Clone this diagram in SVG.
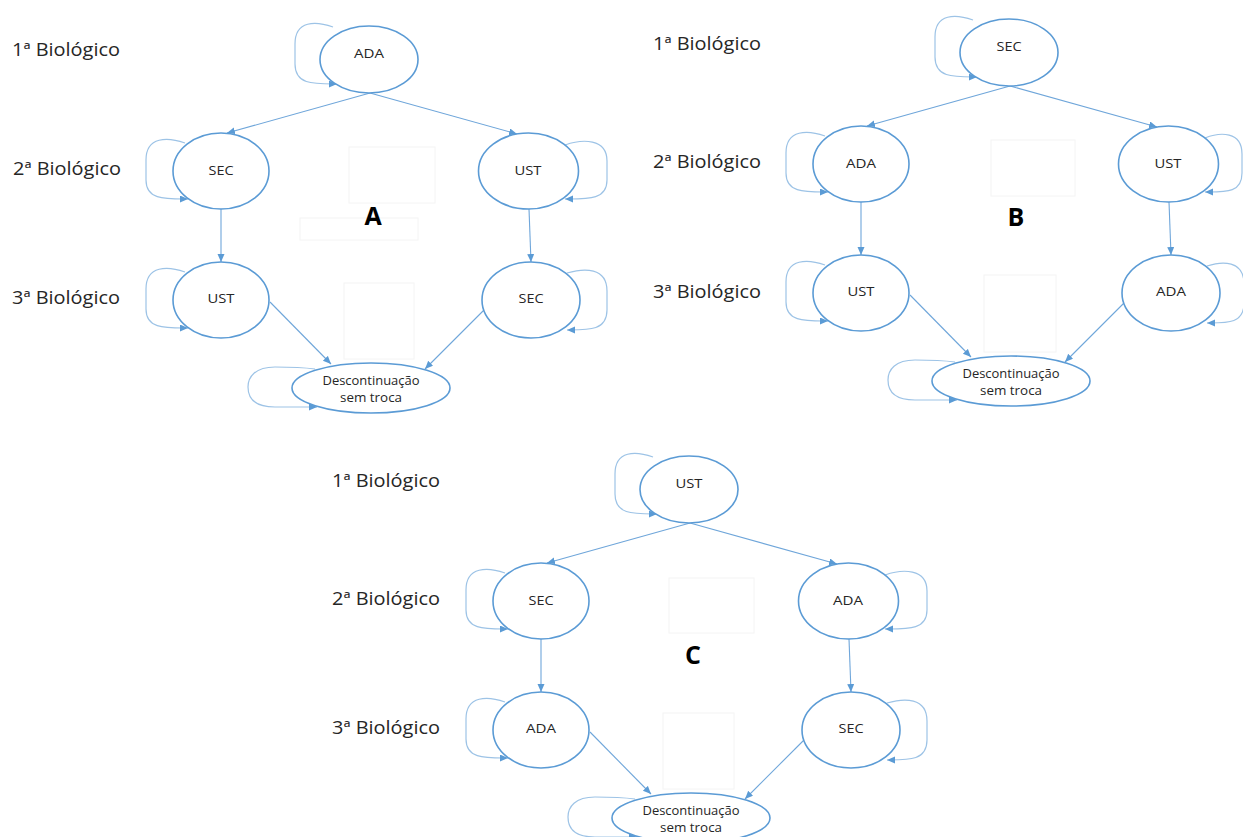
<svg xmlns="http://www.w3.org/2000/svg" width="1243" height="837" viewBox="0 0 1243 837">
  <style>
    .node { fill: #ffffff; stroke: #5b9bd5; stroke-width: 1.6; }
    .edge { fill: none; stroke: #6fa6da; stroke-width: 1.1; }
    .loop { fill: none; stroke: #9dc3e6; stroke-width: 1.2; }
    .ghost { fill: none; stroke: #f4f4f4; stroke-width: 1; }
    .nt { font-family: "Open Sans", "Liberation Sans", sans-serif; font-size: 13px; fill: #262626; text-anchor: middle; }
    .row { font-family: "Open Sans", "Liberation Sans", sans-serif; font-size: 17.5px; fill: #262626; }
    .tag { font-family: "Open Sans", "Liberation Sans", sans-serif; font-size: 25px; font-weight: bold; fill: #000000; text-anchor: middle; }
  </style>
  <defs>
    <marker id="arrow" markerUnits="userSpaceOnUse" markerWidth="9" markerHeight="8" refX="8" refY="3.5" orient="auto">
      <path d="M0,0 L8,3.5 L0,7 Z" fill="#5b9bd5"/>
    </marker>
  </defs>
  <rect width="1243" height="837" fill="#ffffff"/>

  <!-- Panel A -->
  <g id="panel-a">
    <rect class="ghost" x="349" y="147" width="86" height="56"/>
    <rect class="ghost" x="300" y="218" width="118" height="22"/>
    <rect class="ghost" x="344" y="283" width="70" height="76"/>
    <text class="row" x="12" y="56" textLength="108" lengthAdjust="spacingAndGlyphs">1ª Biológico</text>
    <text class="row" x="13" y="175" textLength="108" lengthAdjust="spacingAndGlyphs">2ª Biológico</text>
    <text class="row" x="12" y="304" textLength="108" lengthAdjust="spacingAndGlyphs">3ª Biológico</text>
    <g id="a-connectors">
      <path class="edge" d="M370,93 L227,133" marker-end="url(#arrow)"/>
      <path class="edge" d="M370,93 L517,134" marker-end="url(#arrow)"/>
      <path class="edge" d="M221,209 L221,262" marker-end="url(#arrow)"/>
      <path class="edge" d="M529,209 L531,262" marker-end="url(#arrow)"/>
      <path class="edge" d="M270,302 L331,364" marker-end="url(#arrow)"/>
      <path class="edge" d="M484,310 L425,369" marker-end="url(#arrow)"/>
      <path class="loop" d="M333,27 C316,21 295,20 295,44 L295,64 C295,85 314,84 337,84" marker-end="url(#arrow)"/>
      <path class="loop" d="M185,143 C168,137 146,136 146,160 L146,180 C146,200 165,199 188,199" marker-end="url(#arrow)"/>
      <path class="loop" d="M185,272 C168,266 146,265 146,289 L146,309 C146,329 165,328 188,328" marker-end="url(#arrow)"/>
      <path class="loop" d="M565,145 C582,139 607,138 607,161 L607,180 C607,200 588,199 565,199" marker-end="url(#arrow)"/>
      <path class="loop" d="M567,273 C584,268 607,267 607,291 L607,310 C607,331 588,330 567,330" marker-end="url(#arrow)"/>
      <path class="loop" d="M315,369 C300,367 285,367 275,367 C255,367 248,377 248,387 C248,399 256,407 275,407 L317,407" marker-end="url(#arrow)"/>
    </g>
    <g id="a-ada-1"><ellipse class="node" cx="369" cy="59.5" rx="49" ry="33.5"/><text class="nt" x="369" y="58" textLength="30" lengthAdjust="spacingAndGlyphs">ADA</text></g>
    <g id="a-sec-2"><ellipse class="node" cx="221" cy="171" rx="48" ry="38"/><text class="nt" x="221" y="175" textLength="25" lengthAdjust="spacingAndGlyphs">SEC</text></g>
    <g id="a-ust-2"><ellipse class="node" cx="528.5" cy="171" rx="50" ry="38"/><text class="nt" x="528" y="175" textLength="27" lengthAdjust="spacingAndGlyphs">UST</text></g>
    <g id="a-ust-3"><ellipse class="node" cx="221" cy="300" rx="48" ry="38"/><text class="nt" x="221" y="303" textLength="27" lengthAdjust="spacingAndGlyphs">UST</text></g>
    <g id="a-sec-3"><ellipse class="node" cx="531" cy="300" rx="49" ry="38"/><text class="nt" x="531" y="303" textLength="25" lengthAdjust="spacingAndGlyphs">SEC</text></g>
    <g id="a-desc"><ellipse class="node" cx="371" cy="388" rx="79" ry="25"/><text class="nt" x="371" y="385" textLength="97" lengthAdjust="spacingAndGlyphs">Descontinuação</text><text class="nt" x="371" y="402" textLength="62" lengthAdjust="spacingAndGlyphs">sem troca</text></g>
  </g>
  <text class="tag" x="373" y="225">A</text>

  <!-- Panel B -->
  <g id="panel-b" transform="translate(640,-7)">
    <rect class="ghost" x="351" y="147" width="84" height="56"/>
    <rect class="ghost" x="344" y="282" width="72" height="77"/>
    <text class="row" x="13" y="57" textLength="108" lengthAdjust="spacingAndGlyphs">1ª Biológico</text>
    <text class="row" x="13" y="175" textLength="108" lengthAdjust="spacingAndGlyphs">2ª Biológico</text>
    <text class="row" x="13" y="305" textLength="108" lengthAdjust="spacingAndGlyphs">3ª Biológico</text>
    <g id="b-connectors">
      <path class="edge" d="M370,93 L227,133" marker-end="url(#arrow)"/>
      <path class="edge" d="M370,93 L517,134" marker-end="url(#arrow)"/>
      <path class="edge" d="M221,209 L221,262" marker-end="url(#arrow)"/>
      <path class="edge" d="M529,209 L531,262" marker-end="url(#arrow)"/>
      <path class="edge" d="M270,302 L331,364" marker-end="url(#arrow)"/>
      <path class="edge" d="M484,310 L425,369" marker-end="url(#arrow)"/>
      <path class="loop" d="M333,27 C316,21 295,20 295,44 L295,64 C295,85 314,84 337,84" marker-end="url(#arrow)"/>
      <path class="loop" d="M185,143 C168,137 146,136 146,160 L146,180 C146,200 165,199 188,199" marker-end="url(#arrow)"/>
      <path class="loop" d="M185,272 C168,266 146,265 146,289 L146,309 C146,329 165,328 188,328" marker-end="url(#arrow)"/>
      <path class="loop" d="M565,145 C580,139 602,138 602,161 L602,180 C602,200 586,199 565,199" marker-end="url(#arrow)"/>
      <path class="loop" d="M567,273 C582,268 604,267 604,291 L604,310 C604,331 587,330 567,330" marker-end="url(#arrow)"/>
      <path class="loop" d="M315,369 C300,367 285,367 275,367 C255,367 248,377 248,387 C248,399 256,407 275,407 L317,407" marker-end="url(#arrow)"/>
    </g>
    <g id="b-sec-1"><ellipse class="node" cx="369" cy="59.5" rx="49" ry="33.5"/><text class="nt" x="369" y="58" textLength="25" lengthAdjust="spacingAndGlyphs">SEC</text></g>
    <g id="b-ada-2"><ellipse class="node" cx="221" cy="171" rx="48" ry="38"/><text class="nt" x="221" y="175" textLength="30" lengthAdjust="spacingAndGlyphs">ADA</text></g>
    <g id="b-ust-2"><ellipse class="node" cx="528.5" cy="171" rx="50" ry="38"/><text class="nt" x="528" y="175" textLength="27" lengthAdjust="spacingAndGlyphs">UST</text></g>
    <g id="b-ust-3"><ellipse class="node" cx="221" cy="300" rx="48" ry="38"/><text class="nt" x="221" y="303" textLength="27" lengthAdjust="spacingAndGlyphs">UST</text></g>
    <g id="b-ada-3"><ellipse class="node" cx="531" cy="300" rx="49" ry="38"/><text class="nt" x="531" y="303" textLength="30" lengthAdjust="spacingAndGlyphs">ADA</text></g>
    <g id="b-desc"><ellipse class="node" cx="371" cy="388" rx="79" ry="25"/><text class="nt" x="371" y="385" textLength="97" lengthAdjust="spacingAndGlyphs">Descontinuação</text><text class="nt" x="371" y="402" textLength="62" lengthAdjust="spacingAndGlyphs">sem troca</text></g>
  </g>
  <text class="tag" x="1016" y="226">B</text>

  <!-- Panel C -->
  <g id="panel-c" transform="translate(320,430)">
    <rect class="ghost" x="349" y="148" width="85" height="55"/>
    <rect class="ghost" x="343" y="283" width="71" height="76"/>
    <text class="row" x="12" y="57" textLength="108" lengthAdjust="spacingAndGlyphs">1ª Biológico</text>
    <text class="row" x="12" y="175" textLength="108" lengthAdjust="spacingAndGlyphs">2ª Biológico</text>
    <text class="row" x="12" y="304" textLength="108" lengthAdjust="spacingAndGlyphs">3ª Biológico</text>
    <g id="c-connectors">
      <path class="edge" d="M370,93 L227,133" marker-end="url(#arrow)"/>
      <path class="edge" d="M370,93 L517,134" marker-end="url(#arrow)"/>
      <path class="edge" d="M221,209 L221,262" marker-end="url(#arrow)"/>
      <path class="edge" d="M529,209 L531,262" marker-end="url(#arrow)"/>
      <path class="edge" d="M270,302 L331,364" marker-end="url(#arrow)"/>
      <path class="edge" d="M484,310 L425,369" marker-end="url(#arrow)"/>
      <path class="loop" d="M333,27 C316,21 295,20 295,44 L295,64 C295,85 314,84 337,84" marker-end="url(#arrow)"/>
      <path class="loop" d="M185,143 C168,137 146,136 146,160 L146,180 C146,200 165,199 188,199" marker-end="url(#arrow)"/>
      <path class="loop" d="M185,272 C168,266 146,265 146,289 L146,309 C146,329 165,328 188,328" marker-end="url(#arrow)"/>
      <path class="loop" d="M565,145 C582,139 607,138 607,161 L607,180 C607,200 588,199 565,199" marker-end="url(#arrow)"/>
      <path class="loop" d="M567,273 C584,268 607,267 607,291 L607,310 C607,331 588,330 567,330" marker-end="url(#arrow)"/>
      <path class="loop" d="M315,369 C300,367 285,367 275,367 C255,367 248,377 248,387 C248,399 256,407 275,407 L317,407" marker-end="url(#arrow)"/>
    </g>
    <g id="c-ust-1"><ellipse class="node" cx="369" cy="59.5" rx="49" ry="33.5"/><text class="nt" x="369" y="58" textLength="27" lengthAdjust="spacingAndGlyphs">UST</text></g>
    <g id="c-sec-2"><ellipse class="node" cx="221" cy="171" rx="48" ry="38"/><text class="nt" x="221" y="175" textLength="25" lengthAdjust="spacingAndGlyphs">SEC</text></g>
    <g id="c-ada-2"><ellipse class="node" cx="528.5" cy="171" rx="50" ry="38"/><text class="nt" x="528" y="175" textLength="30" lengthAdjust="spacingAndGlyphs">ADA</text></g>
    <g id="c-ada-3"><ellipse class="node" cx="221" cy="300" rx="48" ry="38"/><text class="nt" x="221" y="303" textLength="30" lengthAdjust="spacingAndGlyphs">ADA</text></g>
    <g id="c-sec-3"><ellipse class="node" cx="531" cy="300" rx="49" ry="38"/><text class="nt" x="531" y="303" textLength="25" lengthAdjust="spacingAndGlyphs">SEC</text></g>
    <g id="c-desc"><ellipse class="node" cx="371" cy="388" rx="79" ry="25"/><text class="nt" x="371" y="385" textLength="97" lengthAdjust="spacingAndGlyphs">Descontinuação</text><text class="nt" x="371" y="402" textLength="62" lengthAdjust="spacingAndGlyphs">sem troca</text></g>
  </g>
  <text class="tag" x="693" y="664">C</text>
</svg>
